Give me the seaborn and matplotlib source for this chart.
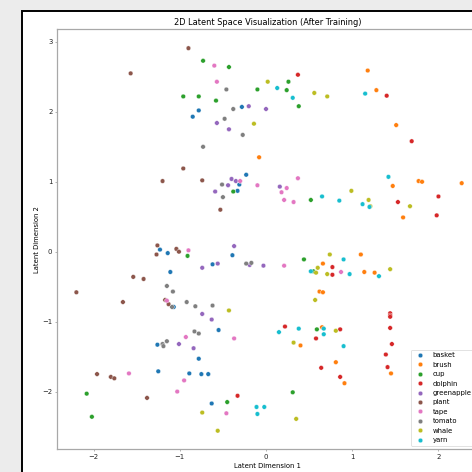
import numpy as np
import pandas as pd
import matplotlib
matplotlib.use("Agg")
import matplotlib.pyplot as plt
from matplotlib.patches import Rectangle
import seaborn as sns

categories = ["basket", "brush", "cup", "dolphin", "greenapple",
              "plant", "tape", "tomato", "whale", "yarn"]

basket_x = [-0.78, -0.85, -0.28, -0.23, -0.31, -0.33, -1.23, -1.14, -1.11, -0.39,
            -0.62, -1.07, -0.55, -1.26, -0.78, -1.25, -0.89, -0.75, -0.67, -0.63]
basket_y = [2.02, 1.93, 2.07, 1.10, 0.96, 0.87, 0.03, -0.02, -0.29, -0.05,
            -0.18, -0.79, -1.12, -1.33, -1.53, -1.71, -1.74, -1.75, -1.75, -2.17]

brush_x = [1.18, 1.28, 1.51, -0.08, 1.47, 1.77, 1.81, 2.27, 1.59, 0.66,
           0.62, 0.66, 1.10, 1.14, 1.26, 0.65, 0.40, 0.81, 1.45, 0.91]
brush_y = [2.59, 2.31, 1.81, 1.35, 0.94, 1.01, 1.00, 0.98, 0.49, -0.17,
           -0.57, -0.58, -0.04, -0.29, -0.30, -1.08, -1.34, -1.58, -1.74, -1.88]

cup_x = [-0.73, -0.43, -0.96, -0.78, -0.58, -0.10, 0.26, 0.24, 0.38, -0.38,
         0.52, -0.91, 0.44, 0.55, 0.59, -2.08, -0.45, 0.31, -2.02]
cup_y = [2.73, 2.64, 2.22, 2.22, 2.16, 2.32, 2.43, 2.31, 2.08, 0.86,
         0.74, -0.06, -0.11, -0.28, -1.11, -2.03, -2.15, -2.01, -2.36]

dolphin_x = [0.37, 1.40, 1.69, 1.53, 2.00, 1.98, 0.77, 0.77, 1.44, 1.44, 1.44,
             1.44, 0.22, 0.86, 0.58, 1.46, 1.39, 0.64, 1.41, 0.86, -0.33]
dolphin_y = [2.53, 2.23, 1.58, 0.71, 0.79, 0.52, -0.22, -0.33, -0.88, -0.91, -0.93,
             -1.09, -1.07, -1.11, -1.24, -1.32, -1.47, -1.66, -1.65, -1.79, -2.06]

greenapple_x = [-0.57, -0.43, -0.20, 0.00, -0.40, -0.35, -0.44, -0.59, 0.16,
                -0.37, -0.56, -0.74, -0.19, -0.03, -0.74, -0.63, -1.01, -0.84]
greenapple_y = [1.84, 1.75, 2.08, 2.04, 1.04, 1.01, 0.95, 0.86, 0.93,
                0.08, -0.17, -0.23, -0.19, -0.20, -0.89, -0.97, -1.32, -1.38]

plant_x = [-0.90, -1.57, -0.96, -1.20, -0.74, -0.53, -1.26, -1.27, -1.04, -1.01,
           -1.54, -1.42, -2.20, -1.66, -1.17, -1.13, -1.96, -1.80, -1.76, -1.38]
plant_y = [2.91, 2.55, 1.19, 1.01, 1.02, 0.60, 0.09, -0.04, 0.04, 0.00,
           -0.36, -0.39, -0.58, -0.72, -0.69, -0.75, -1.75, -1.79, -1.81, -2.09]

tape_x = [-0.60, -0.57, -0.30, -0.10, 0.24, 0.37, 0.18, 0.21, 0.32, -0.90,
          0.21, -1.15, -0.37, -0.93, -1.59, -0.95, -1.03, -0.46, 0.87]
tape_y = [2.66, 2.43, 1.01, 0.95, 0.91, 1.05, 0.85, 0.74, 0.71, 0.02,
          -0.20, -0.70, -1.24, -1.22, -1.74, -1.84, -2.00, -2.31, -0.29]

tomato_x = [-0.46, -0.38, -0.48, -0.27, -0.73, -0.51, -0.50, -1.15, -1.08, -0.92,
            -0.82, -1.09, -0.62, -0.23, -0.17, -0.83, -0.78, -1.15, -1.20, -1.19]
tomato_y = [2.32, 2.04, 1.90, 1.67, 1.50, 0.96, 0.78, -0.49, -0.57, -0.72,
            -0.78, -0.79, -0.77, -0.17, -0.16, -1.14, -1.17, -1.28, -1.32, -1.35]

whale_x = [0.02, 0.56, 0.71, -0.14, 0.99, 1.19, 1.21, 1.67, 0.74, 0.60,
           0.58, 0.71, 0.57, 1.44, 0.81, 0.32, -0.43, -0.74, -0.56, 0.35]
whale_y = [2.43, 2.27, 2.22, 1.83, 0.87, 0.74, 0.65, 0.65, -0.04, -0.23,
           -0.30, -0.32, -0.69, -0.25, -1.13, -1.30, -0.84, -2.30, -2.56, -2.39]

yarn_x = [0.13, 0.31, 1.15, 1.42, 0.65, 0.85, 1.12, 1.20, 0.52, 0.90,
          0.97, 1.31, 0.15, 0.38, 0.67, 0.67, 0.90, -0.11, -0.02, -0.10]
yarn_y = [2.34, 2.20, 2.26, 1.07, 0.79, 0.73, 0.68, 0.64, -0.28, -0.11,
          -0.32, -0.35, -1.15, -1.10, -1.10, -1.18, -1.35, -2.22, -2.22, -2.32]

xs = [basket_x, brush_x, cup_x, dolphin_x, greenapple_x,
      plant_x, tape_x, tomato_x, whale_x, yarn_x]
ys = [basket_y, brush_y, cup_y, dolphin_y, greenapple_y,
      plant_y, tape_y, tomato_y, whale_y, yarn_y]

df = pd.concat(
    [pd.DataFrame({"x": x, "y": y, "label": c}) for c, x, y in zip(categories, xs, ys)],
    ignore_index=True,
)

k = 0.494
plt.rcParams.update({
    "font.family": ["DejaVu Sans"],
    "font.size": 10 * k,
    "axes.titlesize": 12 * k,
    "axes.labelsize": 10 * k,
    "xtick.labelsize": 10 * k,
    "ytick.labelsize": 10 * k,
    "legend.fontsize": 10 * k,
    "axes.linewidth": 0.9,
    "axes.edgecolor": "#a8a8a8",
    "xtick.color": "#777777",
    "ytick.color": "#777777",
    "xtick.labelcolor": "#222222",
    "ytick.labelcolor": "#222222",
    "xtick.major.size": 3.5 * k,
    "ytick.major.size": 3.5 * k,
    "xtick.major.width": 0.8 * k,
    "ytick.major.width": 0.8 * k,
    "xtick.major.pad": 3.5 * k,
    "ytick.major.pad": 3.5 * k,
    "axes.titlepad": 6 * k,
    "axes.labelpad": 4 * k,
    "patch.linewidth": 1.0 * k,
})

W = 472
fig = plt.figure(figsize=(4.72, 4.72), dpi=100)
fig.patch.set_facecolor("#ececec")
fig.add_artist(Rectangle((21.5 / W, -0.1), 1.2, 1 - 10.5 / W + 0.1,
                         transform=fig.transFigure, facecolor="white",
                         edgecolor="black", linewidth=1.4, zorder=0))

ax = fig.add_axes([57.3 / W, (W - 449.3) / W, (478 - 57.3) / W, (449.3 - 29) / W])
sns.scatterplot(data=df, x="x", y="y", hue="label", hue_order=categories,
                palette="tab10", s=11, ax=ax)
ax.set_xlim(-2.421, 2.459)
ax.set_ylim(-2.825, 3.184)
ax.set_xticks([-2, -1, 0, 1, 2])
ax.set_yticks([-2, -1, 0, 1, 2, 3])
ax.set_title("2D Latent Space Visualization (After Training)")
ax.set_xlabel("Latent Dimension 1")
ax.set_ylabel("Latent Dimension 2")
sns.move_legend(ax, "lower right", title=None)

fig.savefig("out.png", dpi=100, facecolor=fig.get_facecolor())
